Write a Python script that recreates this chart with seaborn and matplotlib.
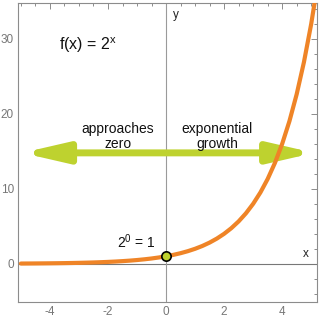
import matplotlib
matplotlib.use("Agg")
import matplotlib.pyplot as plt
import seaborn as sns
import pandas as pd
from matplotlib.patches import FancyArrowPatch, ArrowStyle
from matplotlib.ticker import MultipleLocator

# data: f(x) = 2^x sampled values
x_vals = [-5, -4.75, -4.5, -4.25, -4, -3.75, -3.5, -3.25, -3, -2.75, -2.5, -2.25,
          -2, -1.75, -1.5, -1.25, -1, -0.75, -0.5, -0.25, 0, 0.25, 0.5, 0.75,
          1, 1.25, 1.5, 1.75, 2, 2.25, 2.5, 2.75, 3, 3.25, 3.5, 3.75, 4, 4.25,
          4.5, 4.75, 5, 5.25]
y_vals = [0.031, 0.037, 0.044, 0.053, 0.0625, 0.074, 0.088, 0.105, 0.125, 0.149,
          0.177, 0.210, 0.25, 0.297, 0.354, 0.420, 0.5, 0.595, 0.707, 0.841, 1.0,
          1.189, 1.414, 1.682, 2.0, 2.378, 2.828, 3.364, 4.0, 4.757, 5.657, 6.727,
          8.0, 9.514, 11.314, 13.454, 16.0, 19.027, 22.627, 26.909, 32.0, 38.055]
point_x = [0]
point_y = [1]
x_ticks = [-4, -2, 0, 2, 4]
y_ticks = [0, 10, 20, 30]

sns.set_style("white")
plt.rcParams['font.family'] = ['Liberation Sans', 'DejaVu Sans']
plt.rcParams['mathtext.default'] = 'regular'
plt.rcParams['axes.unicode_minus'] = False

ORANGE = "#ef8427"
GREEN = "#bed22f"
GRAY = "#8c8c8c"

fig = plt.figure(figsize=(3.2, 3.23), dpi=100)
ax = fig.add_axes([18/320, 21/323, 299/320, 299/323])

ax.set_xlim(-5.1, 5.2)
ax.set_ylim(-5.1, 34.8)

ax.axhline(0, color="#777777", lw=0.8, zorder=1)
ax.axvline(0, color="#9a9a9a", lw=0.8, zorder=1)

arrow = FancyArrowPatch((-4.96, 14.8), (5.10, 14.8),
                        arrowstyle=ArrowStyle("<|-|>", head_length=26, head_width=6),
                        mutation_scale=1, lw=5, color=GREEN, zorder=2,
                        shrinkA=0, shrinkB=0)
ax.add_patch(arrow)

df = pd.DataFrame({"x": x_vals, "y": y_vals})
sns.lineplot(data=df, x="x", y="y", ax=ax, color=ORANGE, lw=3, zorder=3)
sns.scatterplot(x=point_x, y=point_y, ax=ax, color=GREEN, edgecolor="black",
                linewidth=1.2, s=45, zorder=4)

ax.text(-3.7, 29.2, r"f(x) = 2$^{x}$", fontsize=11.5, ha="left", va="center", color="#111")
ax.text(-1.66, 17.0, "approaches\nzero", fontsize=10, ha="center", va="center",
        color="#111", linespacing=1.1)
ax.text(1.76, 17.0, "exponential\ngrowth", fontsize=10, ha="center", va="center",
        color="#111", linespacing=1.1)
ax.text(-0.36, 2.9, r"2$^{0}$ = 1", fontsize=10, ha="right", va="center", color="#111")
ax.text(0.25, 33.2, "y", fontsize=8.5, ha="left", va="center", color="#222")
ax.text(4.83, 1.3, "x", fontsize=8.5, ha="center", va="center", color="#222")

ax.set_xlabel("")
ax.set_ylabel("")
ax.set_xticks(x_ticks)
ax.set_yticks(y_ticks)
ax.xaxis.set_minor_locator(MultipleLocator(0.5))
ax.yaxis.set_minor_locator(MultipleLocator(2))
ax.tick_params(which="both", direction="in", top=True, right=True, colors=GRAY,
               labelcolor="#777777", labelsize=8.5, width=0.7)
ax.tick_params(which="major", length=4, pad=3)
ax.tick_params(which="minor", length=2)
ax.tick_params(axis="x", which="both", labeltop=False)
ax.tick_params(axis="y", which="both", labelright=False)
for s in ax.spines.values():
    s.set_color(GRAY)
    s.set_linewidth(0.8)

fig.savefig("out.png", dpi=100)
